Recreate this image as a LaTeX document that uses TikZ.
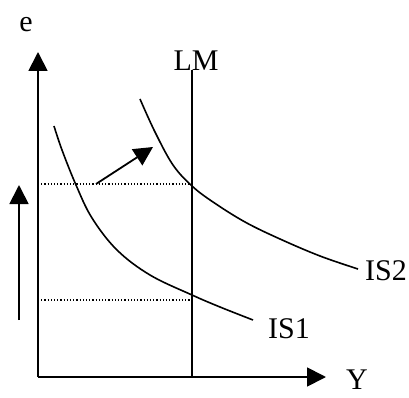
\documentclass[tikz,border=0pt]{standalone}
\usepackage{fontspec}
\setmainfont{Liberation Serif}
\usetikzlibrary{arrows.meta}
\begin{document}
\begin{tikzpicture}[x=1pt,y=-1pt,
  lbl/.style={inner sep=0pt,font=\fontsize{30}{35}\selectfont},
  axis/.style={line width=1.8pt,-{Triangle[length=19pt,width=19pt]}},
  curve/.style={line width=1.6pt},
  guide/.style={line width=1.2pt,dash pattern=on 1.2pt off 2pt}]
\useasboundingbox (0,0) rectangle (409,398);
% coordinates
\coordinate (O) at (38,377);
\coordinate (ytop) at (38,52);
\coordinate (xend) at (326,377);
\coordinate (lmtop) at (192,70);
\coordinate (lmbot) at (192,377);
\coordinate (h1l) at (38,184);
\coordinate (h1r) at (192,184);
\coordinate (h2l) at (38,300);
\coordinate (h2r) at (192,300);
\coordinate (sa) at (96,184);
\coordinate (sb) at (153,147);
\coordinate (la) at (19,320);
\coordinate (lb) at (19,185);
% labels
\node[lbl] (e) at (26,25) {e};
\node[lbl] (LM) at (196,61) {LM};
\node[lbl] (Y) at (357,380) {Y};
\node[lbl] (IS1) at (289,329) {IS1};
\node[lbl] (IS2) at (386,271) {IS2};
% axes
\draw[axis] (O) -- (ytop);
\draw[axis] (O) -- (xend);
\draw[curve] (lmbot) -- (lmtop);
% guides
\draw[guide] (h1l) -- (h1r);
\draw[guide] (h2l) -- (h2r);
% curves
\draw[curve] plot[smooth,tension=0.6] coordinates {(54,126) (62,150) (76,185) (92,218) (117,250) (150,275) (192,295) (220,307) (253,320)};
\draw[curve] plot[smooth,tension=0.6] coordinates {(140,99) (155,132) (173,165) (192,186) (213,202) (245,222) (280,239) (320,256) (358,269)};
% arrows
\draw[axis] (sa) -- (sb);
\draw[axis] (la) -- (lb);
\end{tikzpicture}
\end{document}
